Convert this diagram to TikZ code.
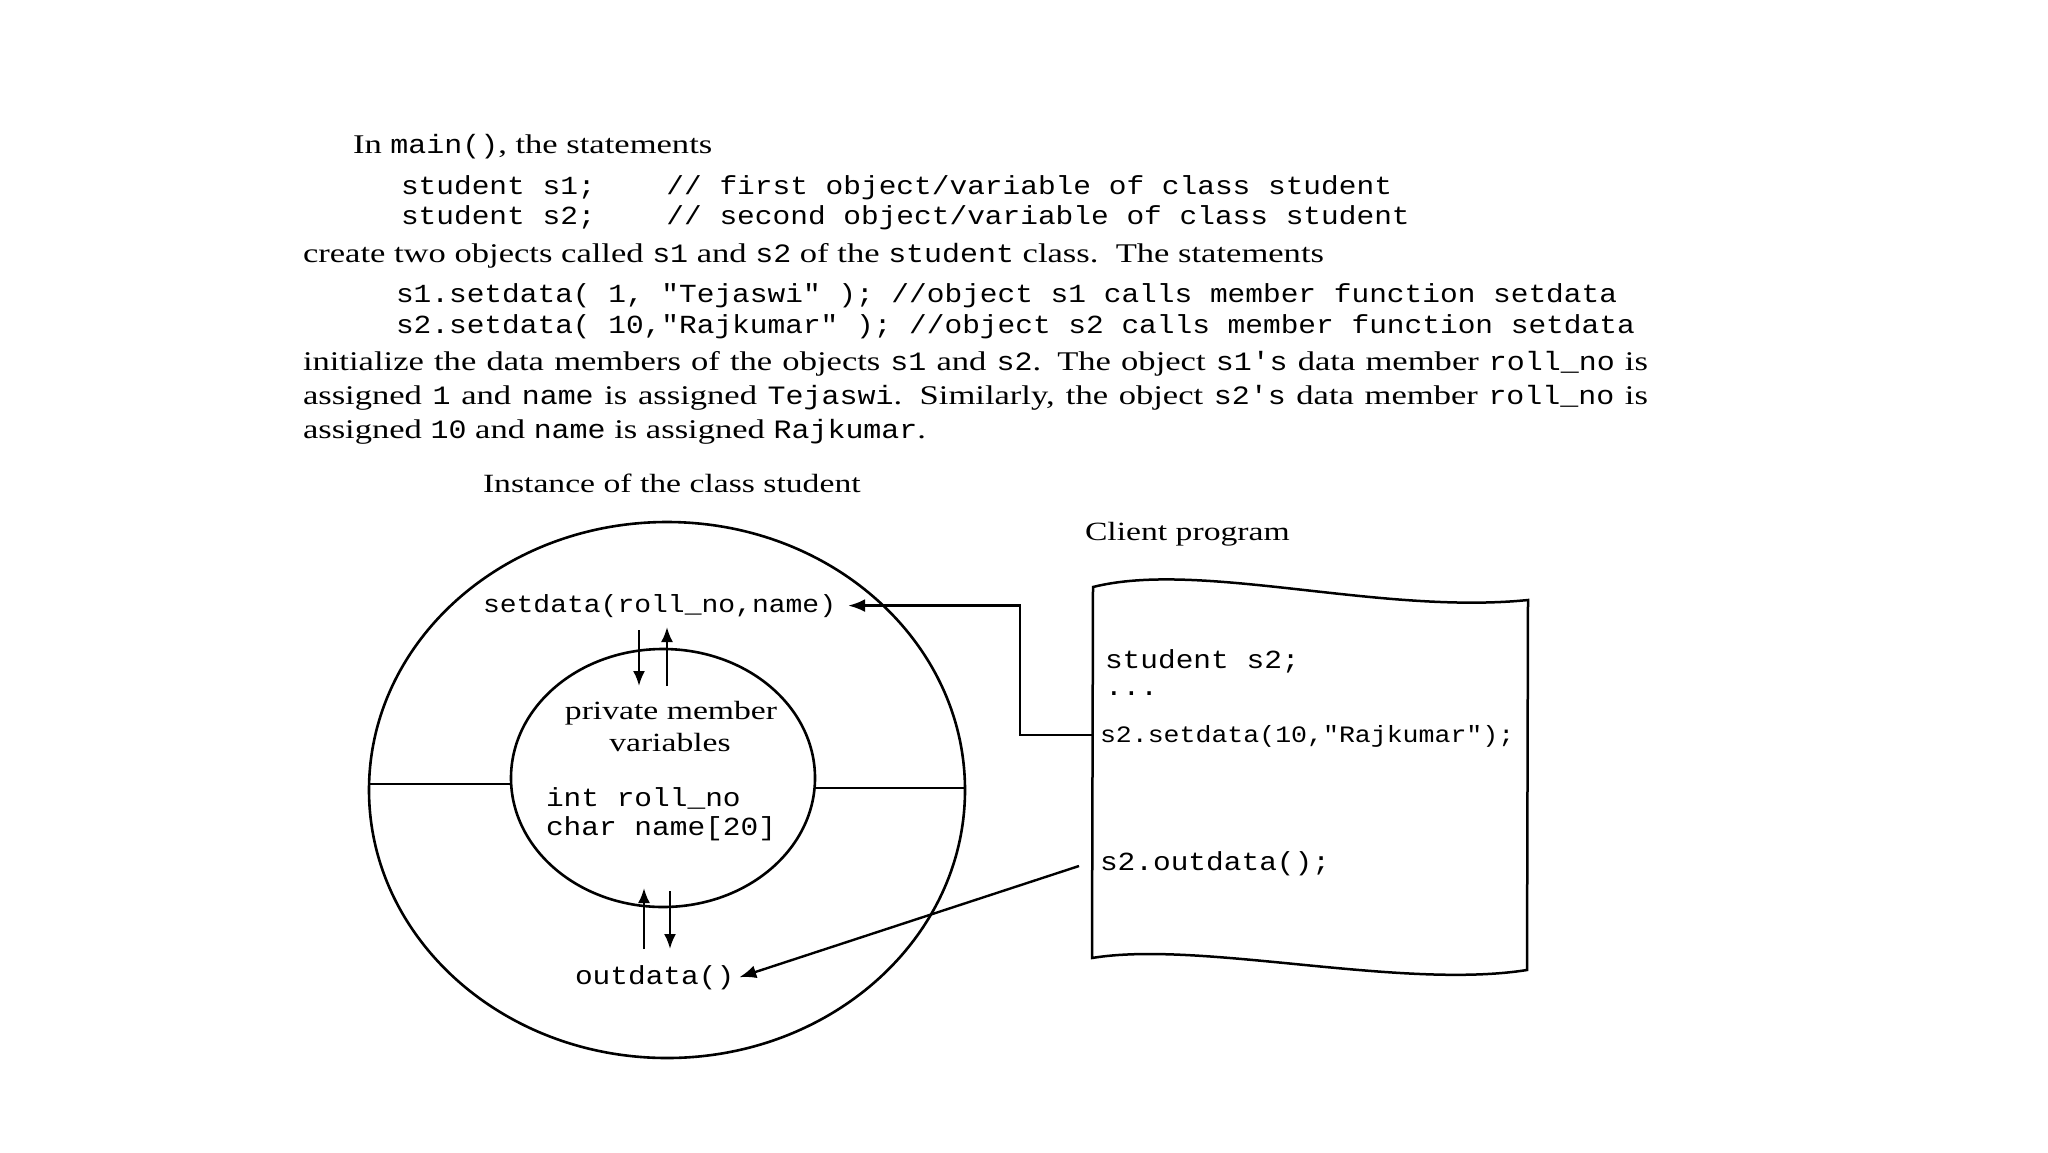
\documentclass[tikz,border=0pt]{standalone}
\usepackage{fontspec}
\setmainfont[FakeStretch=1.28]{Liberation Serif}
\setmonofont[FakeStretch=1.13]{Liberation Mono}
\usetikzlibrary{arrows.meta,shapes.geometric}
\newcommand\ic[1]{{\fontsize{26.5}{30}\selectfont\ttfamily #1}}
\begin{document}
\begin{tikzpicture}[x=1pt,y=-1pt,
  every node/.style={inner sep=0pt,outer sep=0pt},
  body/.style={anchor=base west,font=\fontsize{27}{33}\selectfont},
  lbl/.style={anchor=base west,font=\fontsize{26.3}{32}\selectfont},
  code/.style={anchor=base west,font=\fontsize{26.1}{32}\selectfont\ttfamily},
  ln/.style={line width=2.5pt},
  arr/.style={line width=2.4pt,-{Latex[length=17pt,width=13pt]}},
  sarr/.style={line width=2.4pt,-{Latex[length=15pt,width=12pt]}},
  ell/.style={draw,ellipse,line width=2.6pt}]
\useasboundingbox (0,0) rectangle (2048,1152);
% --- text block ---
\node[body] (t1) at (353,153) {In \ic{main()}, the statements};
\node[code] (c1) at (401,194) {student s1;\ \ \ \ // first object/variable of class student};
\node[code] (c2) at (401,224) {student s2;\ \ \ \ // second object/variable of class student};
\node[body] (t2) at (303,262) {create two objects called \ic{s1} and \ic{s2} of the \ic{student} class.\ \ The statements};
\node[code] (c3) at (396,302) {s1.setdata( 1, "Tejaswi" ); //object s1 calls member function setdata};
\node[code] (c4) at (396,333) {s2.setdata( 10,"Rajkumar" ); //object s2 calls member function setdata};
\node[body] (p1) at (303,370) {\makebox[1345pt][s]{initialize the data members of the objects \ic{s1} and \ic{s2}. The object \ic{s1's} data member \ic{roll\_no} is}};
\node[body] (p2) at (303,404) {\makebox[1345pt][s]{assigned \ic{1} and \ic{name} is assigned \ic{Tejaswi}. Similarly, the object \ic{s2's} data member \ic{roll\_no} is}};
\node[body] (p3) at (303,438) {assigned \ic{10} and \ic{name} is assigned \ic{Rajkumar}.};
% --- diagram ---
\node[lbl] (inst) at (483,492) {Instance of the class student};
\node[lbl] (client) at (1085,540) {Client program};
\node[ell,minimum width=596pt,minimum height=536pt] (outer) at (667,790) {};
\node[ell,minimum width=304pt,minimum height=258pt] (inner) at (663,778) {};
\draw[ln] (outer.west |- 0,784) -- (inner.west |- 0,784);
\draw[ln] (inner.east |- 0,788) -- (outer.east |- 0,788);
\node[code,font=\fontsize{24.8}{30}\selectfont\ttfamily] (sd) at (483,612) {setdata(roll\_no,name)};
\node[lbl,anchor=base] (pm1) at (671,719) {private member};
\node[lbl,anchor=base] (pm2) at (670,751) {variables};
\node[code] (v1) at (546,806) {int roll\_no};
\node[code] (v2) at (546,835) {char name[20]};
\node[code] (od) at (575,984) {outdata()};
% inner arrows
\draw[sarr] (639,630) -- (639,686);
\draw[sarr] (667,686) -- (667,627);
\draw[sarr] (644,949) -- (644,888);
\draw[sarr] (670,891) -- (670,949);
% client program sheet
\draw[ln] (1093,587) .. controls (1200,560) and (1380,615) .. (1528,600)
  -- (1527,970) .. controls (1400,990) and (1200,940) .. (1092,958) -- cycle;
\node[code] (b1) at (1105,668) {student s2;};
\node[code] (b2) at (1105,695) {...};
\node[code,font=\fontsize{23.5}{29}\selectfont\ttfamily] (b3) at (1100,742) {s2.setdata(10,"Rajkumar");};
\node[code] (b4) at (1100,870) {s2.outdata();};
\coordinate (sdin) at (1092,735);
\coordinate (odin) at (1079,866);
\draw[arr] (sdin) -- ++(-72,0) |- ([xshift=12pt]sd.east);
\draw[arr] (odin) -- ([xshift=5pt]od.east);
\end{tikzpicture}
\end{document}
